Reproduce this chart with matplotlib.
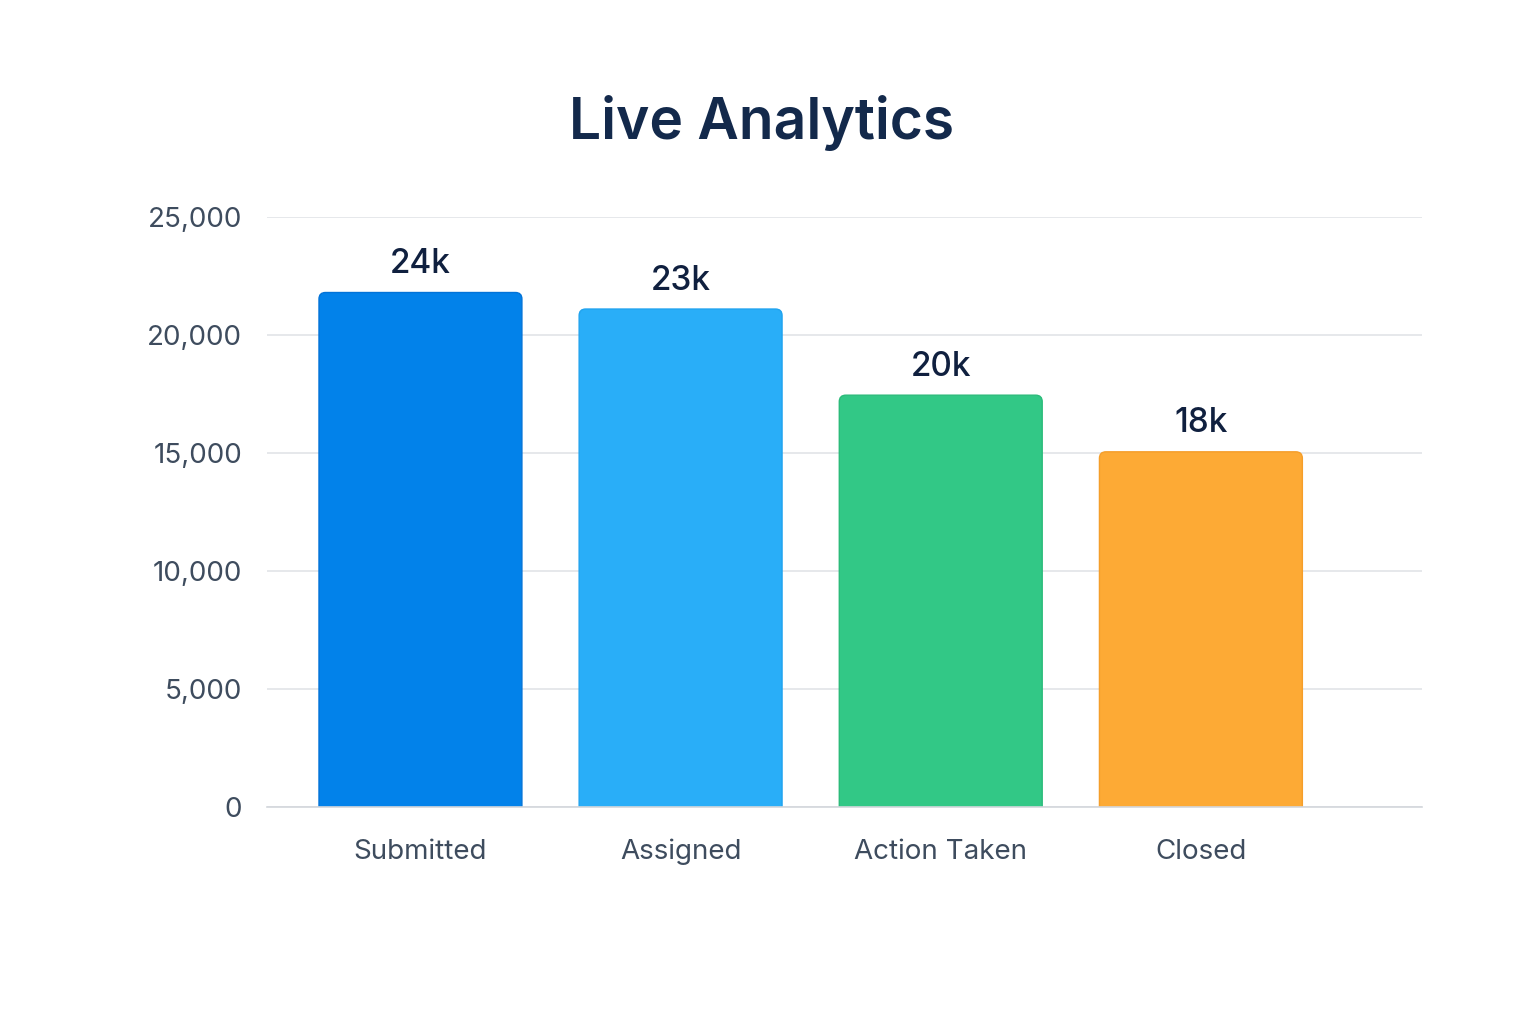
#! /usr/bin/env python3

"""Bar chart of live analytics ticket stages."""

import matplotlib.pyplot as plt
from matplotlib.patches import FancyBboxPatch
from matplotlib.ticker import FuncFormatter

# Data
stages = ['Submitted', 'Assigned', 'Action Taken', 'Closed']
counts = [21800, 21100, 17450, 15050]
count_labels = ['24k', '23k', '20k', '18k']
colors = ['#0282ea', '#29aef8', '#32c886', '#fdaa35']
edges = ['#0273d8', '#1fa3ef', '#2bbb7a', '#f59e2a']
y_ticks = [0, 5000, 10000, 15000, 20000, 25000]

plt.rcParams['font.family'] = ['Inter', 'DejaVu Sans']


def make_plot():
    """Draw the bars with rounded tops and value labels."""
    fig = plt.figure(figsize=(15.36, 10.24), dpi=100)
    ax = fig.add_axes([0.1738, 0.2119, 0.752, 0.5762])

    bars = ax.bar(range(len(stages)), counts, width=0.78, color=colors)

    # Swap plain rectangles for boxes with rounded tops; the bottom
    # corners sit below zero and get clipped by the axes
    extra = 600
    for bar, color, edge in zip(bars, colors, edges):
        x, y = bar.get_xy()
        w, h = bar.get_width(), bar.get_height()
        bar.set_visible(False)
        box = FancyBboxPatch((x, y - extra), w, h + extra,
                             boxstyle='round,pad=0,rounding_size=0.025',
                             mutation_aspect=11000,
                             facecolor=color, edgecolor=edge,
                             linewidth=1.0, zorder=3)
        ax.add_patch(box)

    for i, (value, text) in enumerate(zip(counts, count_labels)):
        ax.annotate(text, (i, value), xytext=(0, 9),
                    textcoords='offset points', ha='center', va='bottom',
                    fontsize=24, fontweight='medium', color='#10203f')

    ax.set_xlim(-0.59, 3.85)
    ax.set_ylim(0, 25000)
    ax.set_yticks(y_ticks)
    ax.yaxis.set_major_formatter(FuncFormatter(lambda v, _: f'{v:,.0f}'))
    ax.set_xticks(range(len(stages)))
    ax.set_xticklabels(stages)

    ax.grid(axis='y', color='#e2e4e8', linewidth=1.2, zorder=0)
    ax.set_axisbelow(True)
    for side in ['top', 'right', 'left']:
        ax.spines[side].set_visible(False)
    ax.spines['bottom'].set_color('#d3d7dc')
    ax.spines['bottom'].set_linewidth(1.2)
    ax.spines['bottom'].set_zorder(4)

    ax.tick_params(axis='both', length=0, labelsize=20,
                   labelcolor='#3e4c5e')
    ax.tick_params(axis='y', pad=18)
    ax.tick_params(axis='x', pad=23)

    fig.text(0.496, 0.880, 'Live Analytics', ha='center', va='center',
             fontsize=41, fontweight='semibold', color='#13294b')

    fig.savefig('out.png', dpi=100, facecolor='white')


if __name__ == "__main__":
    make_plot()
